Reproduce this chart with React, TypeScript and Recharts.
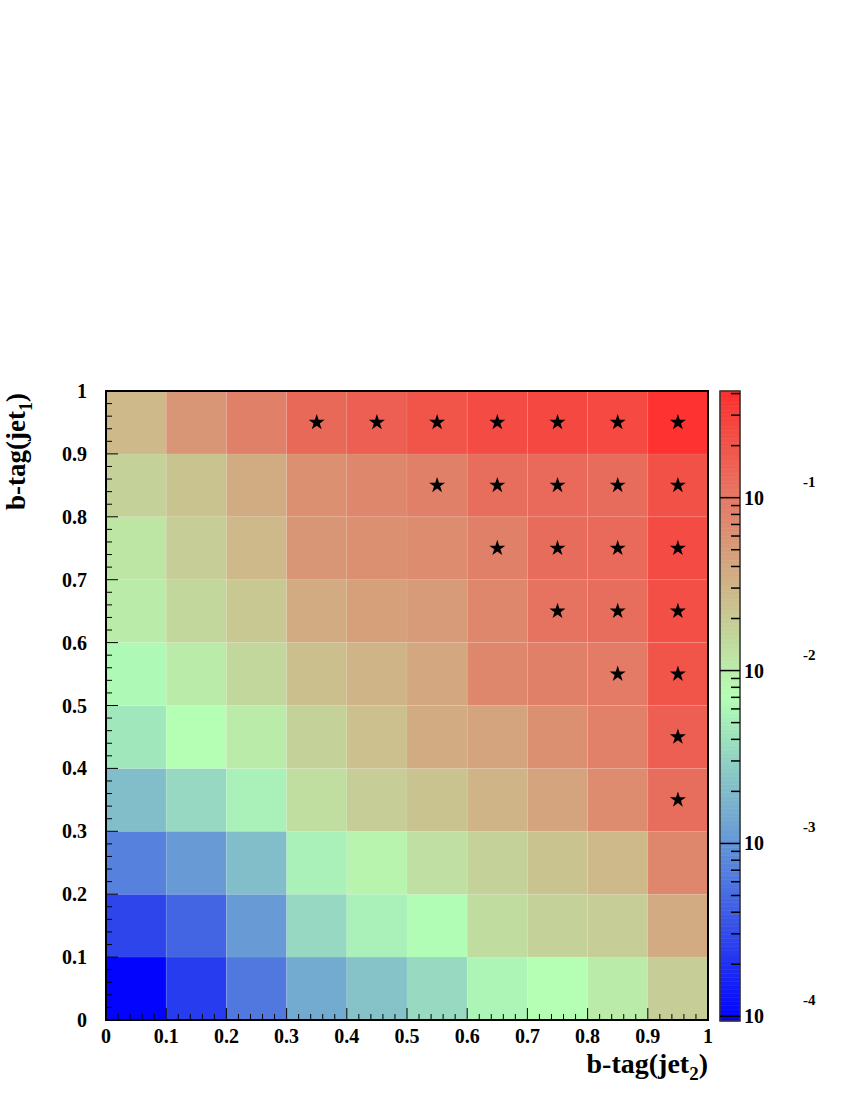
import React from 'react';
import { ComposedChart, XAxis, YAxis, ReferenceArea, Scatter, Symbols } from 'recharts';

// bin lower edges (b-tag(jet2) along x, b-tag(jet1) along y)
const xEdges = [0, 0.1, 0.2, 0.3, 0.4, 0.5, 0.6, 0.7, 0.8, 0.9];
const yEdges = [0, 0.1, 0.2, 0.3, 0.4, 0.5, 0.6, 0.7, 0.8, 0.9];
const binWidth = 0.1;

// cell contents, one array per y-bin (bottom to top), values along x
const row00 = [0.0001, 0.00024, 0.00062, 0.00145, 0.0023, 0.0035, 0.0059, 0.0071, 0.0105, 0.019];
const row01 = [0.00028, 0.00046, 0.0011, 0.0034, 0.0054, 0.0068, 0.014, 0.017, 0.019, 0.037];
const row02 = [0.00072, 0.0011, 0.0021, 0.0054, 0.0087, 0.013, 0.017, 0.023, 0.028, 0.074];
const row03 = [0.0021, 0.0034, 0.0054, 0.0135, 0.019, 0.023, 0.031, 0.042, 0.068, 0.12];
const row04 = [0.0045, 0.0071, 0.0105, 0.017, 0.0245, 0.037, 0.042, 0.062, 0.083, 0.16];
const row05 = [0.0063, 0.0105, 0.0155, 0.025, 0.031, 0.039, 0.074, 0.085, 0.095, 0.195];
const row06 = [0.0105, 0.0155, 0.021, 0.037, 0.046, 0.05, 0.074, 0.11, 0.12, 0.22];
const row07 = [0.0115, 0.019, 0.028, 0.055, 0.062, 0.068, 0.085, 0.126, 0.13, 0.23];
const row08 = [0.017, 0.023, 0.036, 0.062, 0.074, 0.085, 0.12, 0.13, 0.126, 0.21];
const row09 = [0.028, 0.055, 0.085, 0.133, 0.16, 0.195, 0.23, 0.25, 0.245, 0.38];
const rows = [row00, row01, row02, row03, row04, row05, row06, row07, row08, row09];

// starred (selected) cells: bin centres
const starX = [0.35, 0.45, 0.55, 0.65, 0.75, 0.85, 0.95, 0.55, 0.65, 0.75, 0.85, 0.95, 0.65, 0.75, 0.85, 0.95, 0.75, 0.85, 0.95, 0.85, 0.95, 0.95, 0.95];
const starY = [0.95, 0.95, 0.95, 0.95, 0.95, 0.95, 0.95, 0.85, 0.85, 0.85, 0.85, 0.85, 0.75, 0.75, 0.75, 0.75, 0.65, 0.65, 0.65, 0.55, 0.55, 0.45, 0.35];

// axis ticks
const axisTicks = Array.from({ length: 51 }, (_, i) => i / 50);
const zMin = Math.pow(10, -4.027);
const zMax = Math.pow(10, -0.383);
const zTicks: number[] = [];
for (let d = -4; d <= -1; d++) {
  for (let k = 1; k <= 9; k++) {
    const v = k * Math.pow(10, d);
    if (v >= zMin && v <= zMax) zTicks.push(v);
  }
}

// colour palette (log10 value -> rgb)
const paletteStops: [number, number[]][] = [
  [-4.03, [0, 0, 255]],
  [-3.0, [100, 150, 215]],
  [-2.15, [180, 255, 180]],
  [-1.0, [228, 120, 100]],
  [-0.38, [255, 45, 45]],
];
function colorFor(v: number): string {
  const l = Math.log10(v);
  let c = paletteStops[paletteStops.length - 1][1];
  if (l <= paletteStops[0][0]) c = paletteStops[0][1];
  for (let i = 0; i < paletteStops.length - 1; i++) {
    const [a, ca] = paletteStops[i];
    const [b, cb] = paletteStops[i + 1];
    if (l >= a && l <= b) {
      const t = (l - a) / (b - a);
      c = ca.map((x, j) => x + (cb[j] - x) * t);
      break;
    }
  }
  return `rgb(${Math.round(c[0])},${Math.round(c[1])},${Math.round(c[2])})`;
}

const FONT = 'Liberation Serif, Times New Roman, serif';

const cells = rows.flatMap((row, j) =>
  row.map((v, i) => ({ x1: xEdges[i], x2: xEdges[i] + binWidth, y1: yEdges[j], y2: yEdges[j] + binWidth, v }))
);
const starData = starX.map((x, i) => ({ x, y: starY[i] }));

const nBands = 160;
const lMin = Math.log10(zMin);
const lMax = Math.log10(zMax);
const bands = Array.from({ length: nBands }, (_, i) => {
  const a = lMin + ((lMax - lMin) * i) / nBands;
  const b = lMin + ((lMax - lMin) * (i + 1)) / nBands;
  return { x: 0.5, z: Math.pow(10, (a + b) / 2), y1: Math.pow(10, a), y2: Math.pow(10, b), c: colorFor(Math.pow(10, (a + b) / 2)) };
});

const fmt = (v: number) => (v === 0 ? '0' : v === 1 ? '1' : v.toFixed(1));

const YTick = (props: any) => {
  const { x, y, payload } = props;
  const k = Math.round(payload.value * 50);
  const major = k % 5 === 0;
  return (
    <g>
      <line x1={x} x2={x + (major ? 12 : 6)} y1={y} y2={y} stroke="#000" strokeWidth={1} />
      {major && (
        <text x={x - 19} y={y + 7} textAnchor="end" fontFamily={FONT} fontWeight="bold" fontSize={20} fill="#000">
          {fmt(payload.value)}
        </text>
      )}
    </g>
  );
};

const XTick = (props: any) => {
  const { x, y, payload } = props;
  const k = Math.round(payload.value * 50);
  const major = k % 5 === 0;
  return (
    <g>
      <line x1={x} x2={x} y1={y} y2={y - (major ? 12 : 6)} stroke="#000" strokeWidth={1} />
      {major && (
        <text x={x} y={y + 23} textAnchor="middle" fontFamily={FONT} fontWeight="bold" fontSize={20} fill="#000">
          {fmt(payload.value)}
        </text>
      )}
    </g>
  );
};

const ZTick = (props: any) => {
  const { x, y, payload } = props;
  const l = Math.log10(payload.value);
  const major = Math.abs(l - Math.round(l)) < 1e-6;
  return (
    <g>
      <line x1={x} x2={x - (major ? 20 : 9)} y1={y} y2={y} stroke="#000" strokeWidth={1.5} />
      {major && (
        <g>
          <text x={x + 4} y={y + 7} fontFamily={FONT} fontWeight="bold" fontSize={20} fill="#000">10</text>
          <text x={x + 63} y={y - 11} fontFamily={FONT} fontWeight="bold" fontSize={15} fill="#000">{String(Math.round(l))}</text>
        </g>
      )}
    </g>
  );
};

const xTitle = (props: any) => {
  const vb = props.viewBox || { x: 106, y: 1020, width: 602 };
  return (
    <text x={vb.x + vb.width} y={vb.y + 53} textAnchor="end" fontFamily={FONT} fontWeight="bold" fontSize={28} fill="#000">
      b-tag(jet<tspan fontSize={19} dy={7}>2</tspan><tspan dy={-7}>)</tspan>
    </text>
  );
};

const yTitle = (props: any) => {
  const vb = props.viewBox || { x: 105, y: 391 };
  const tx = vb.x - 80;
  const ty = vb.y + 2;
  return (
    <text x={tx} y={ty} transform={`rotate(-90, ${tx}, ${ty})`} textAnchor="end" fontFamily={FONT} fontWeight="bold" fontSize={27} fill="#000">
      b-tag(jet<tspan fontSize={18} dy={7}>1</tspan><tspan dy={-7}>)</tspan>
    </text>
  );
};

const StarShape = (props: any) => (
  <Symbols cx={props.cx} cy={props.cy} type="star" size={80} fill="#000" />
);

export default function App() {
  return (
    <div style={{ position: 'absolute', left: 0, top: 0, width: 850, height: 1100, background: '#fff' }}>
      <div style={{ position: 'absolute', left: 0, top: 0 }}>
        <ComposedChart width={850} height={1100} margin={{ top: 391, right: 142, bottom: 79, left: 105 }} data={starData}>
          <XAxis
            type="number"
            dataKey="x"
            domain={[0, 1]}
            ticks={axisTicks}
            interval={0}
            height={1}
            tickSize={0}
            tickMargin={0}
            axisLine={false}
            tickLine={false}
            tick={<XTick />}
            allowDataOverflow
            label={xTitle}
          />
          <YAxis
            type="number"
            dataKey="y"
            domain={[0, 1]}
            ticks={axisTicks}
            interval={0}
            width={1}
            tickSize={0}
            tickMargin={0}
            axisLine={false}
            tickLine={false}
            tick={<YTick />}
            allowDataOverflow
            label={yTitle}
          />
          {cells.map((c, i) => (
            <ReferenceArea
              key={`c${i}`}
              x1={c.x1}
              x2={c.x2}
              y1={c.y1}
              y2={c.y2}
              fill={colorFor(c.v)}
              fillOpacity={1}
              stroke="rgba(255,255,255,0.07)"
              strokeWidth={1}
              ifOverflow="visible"
            />
          ))}
          <ReferenceArea x1={0} x2={1} y1={0} y2={1} fill="none" stroke="#000" strokeWidth={2} ifOverflow="visible" />
          <Scatter dataKey="y" isAnimationActive={false} shape={<StarShape />} />
        </ComposedChart>
      </div>
      <div style={{ position: 'absolute', left: 0, top: 0 }}>
        <ComposedChart width={850} height={1100} margin={{ top: 391, right: 109, bottom: 79, left: 720 }} data={bands}>
          <XAxis type="number" dataKey="x" domain={[0, 1]} hide />
          <YAxis
            type="number"
            dataKey="z"
            scale="log"
            domain={[zMin, zMax]}
            ticks={zTicks}
            interval={0}
            orientation="right"
            width={1}
            tickSize={0}
            tickMargin={0}
            axisLine={false}
            tickLine={false}
            tick={<ZTick />}
            allowDataOverflow
          />
          {bands.map((b, i) => (
            <ReferenceArea key={`b${i}`} x1={0} x2={1} y1={b.y1} y2={b.y2} fill={b.c} fillOpacity={1} stroke={b.c} strokeWidth={0.6} ifOverflow="visible" />
          ))}
          <ReferenceArea x1={0} x2={1} y1={zMin} y2={zMax} fill="none" stroke="#333" strokeWidth={1.5} ifOverflow="visible" />
        </ComposedChart>
      </div>
    </div>
  );
}
